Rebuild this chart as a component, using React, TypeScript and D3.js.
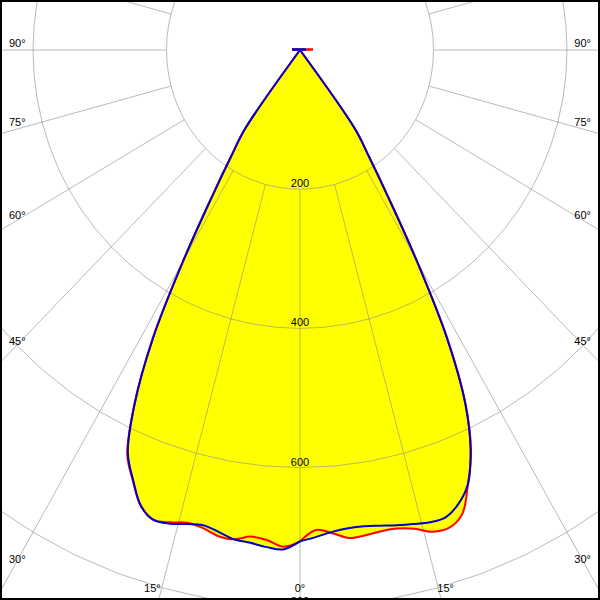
import React from "react";
import * as d3 from "d3";

// Polar angles (gamma, degrees from nadir)
const GAMMA = [0, 2, 4, 6, 8, 10, 12, 14, 16, 18, 20, 22, 24, 26, 28, 30, 32, 34, 36, 38, 40, 50, 60, 70, 80, 90];
// Luminous intensity (cd/klm) per half-plane
const RED_C0 = [706, 690, 696, 705, 704, 702, 703, 709, 720, 722, 710, 672, 630, 565, 470, 350, 250, 185, 140, 0, 0, 0, 0, 0, 0, 0];
const RED_C180 = [706, 714, 706, 703, 710, 709, 702, 700, 706, 710, 697, 668, 636, 565, 470, 350, 250, 185, 140, 0, 0, 0, 0, 0, 0, 0];
const BLUE_C90 = [706, 700, 694, 691, 691, 694, 698, 702, 706, 706, 694, 672, 628, 565, 470, 350, 250, 185, 140, 0, 0, 0, 0, 0, 0, 0];
const BLUE_C270 = [706, 718, 716, 712, 710, 703, 698, 702, 708, 710, 697, 667, 634, 565, 470, 350, 250, 185, 140, 0, 0, 0, 0, 0, 0, 0];

const RING_VALUES = [200, 400, 600, 800, 1000];
const RING_LABELS = ["200", "400", "600", "800"];
const SPOKE_STEP = 15;
const SIDE_ANGLES = [90, 75, 60, 45, 30];
const BOTTOM_ANGLES = [15];

const W = 600;
const H = 600;
const CX = 300;
const CY = 50;

const rx = d3.scaleLinear().domain([0, 200]).range([0, 133.5]);
const ry = d3.scaleLinear().domain([0, 200]).range([0, 139.2]);

const rad = (d: number) => (d * Math.PI) / 180;
const pt = (angleDeg: number, value: number): [number, number] => [
  CX + rx(value) * Math.sin(rad(angleDeg)),
  CY + ry(value) * Math.cos(rad(angleDeg)),
];

// points of one half-plane, from nadir (gamma 0) up to the first zero
function half(values: number[], sign: number): [number, number][] {
  const pts: [number, number][] = [];
  for (let i = 0; i < GAMMA.length; i++) {
    pts.push(pt(sign * GAMMA[i], values[i]));
    if (values[i] === 0) break;
  }
  return pts;
}

const smooth = d3.line<[number, number]>().curve(d3.curveCatmullRom.alpha(0.5));
const line = d3.line<[number, number]>();

function outlinePath(left: number[], right: number[]): string {
  const l = half(left, -1).reverse(); // origin -> nadir
  const r = half(right, 1); // nadir -> origin
  const a = smooth(l) as string;
  const b = (smooth(r) as string).replace(/^M/, "L");
  return a + b + "Z";
}

export default function App() {
  const red = outlinePath(RED_C180, RED_C0);
  const blue = outlinePath(BLUE_C270, BLUE_C90);

  const rings = RING_VALUES.map((v) => {
    const pts: [number, number][] = d3.range(0, 361, 5).map((a) => pt(a, v));
    return line(pts) as string;
  });
  const spokes = d3.range(0, 360, SPOKE_STEP).map((a) => line([pt(a, 200), pt(a, 1400)]) as string);

  const font = { fontFamily: "'Liberation Sans', Arial, sans-serif", fontSize: 11 };

  const spokeYAtX = (a: number, x: number) => {
    const s = Math.sin(rad(a)) * rx(1);
    const c = Math.cos(rad(a)) * ry(1);
    return CY + ((CX - x) * c) / s;
  };
  const spokeXAtY = (a: number, y: number) => {
    const s = Math.sin(rad(a)) * rx(1);
    const c = Math.cos(rad(a)) * ry(1);
    return ((y - CY) * s) / c;
  };

  return (
    <svg
      width={W}
      height={H}
      style={{ position: "fixed", left: 0, top: 0, display: "block", background: "#fff" }}
    >
      <rect x={0} y={0} width={W} height={H} fill="#fff" />
      <path d={red} fill="#ffff00" stroke="none" />
      <path d={blue} fill="#ffff00" stroke="none" />
      <g stroke="#8c8c8c" strokeOpacity={0.6} fill="none" strokeWidth={1}>
        {rings.map((d, i) => (
          <path key={"r" + i} d={d} />
        ))}
        {spokes.map((d, i) => (
          <path key={"s" + i} d={d} />
        ))}
      </g>
      <path d={red} fill="none" stroke="#ff0000" strokeWidth={2} strokeLinejoin="round" />
      <path d={blue} fill="none" stroke="#0000c8" strokeWidth={2} strokeLinejoin="round" />
      {/* luminaire */}
      <line x1={292} x2={313} y1={49.5} y2={49.5} stroke="#ff0000" strokeWidth={2.5} />
      <line x1={292} x2={306} y1={49.5} y2={49.5} stroke="#0000c8" strokeWidth={2.5} />
      <g {...font} fill="#000">
        {RING_LABELS.map((t) => (
          <text key={t} x={CX} y={CY + ry(+t) - 2} textAnchor="middle">
            {t}
          </text>
        ))}
        {SIDE_ANGLES.map((a) => (
          <text key={"l" + a} x={9} y={spokeYAtX(a, 14) - 3.5}>
            {a}°
          </text>
        ))}
        {SIDE_ANGLES.map((a) => (
          <text key={"rt" + a} x={591} y={spokeYAtX(a, 14) - 3.5} textAnchor="end">
            {a}°
          </text>
        ))}
        {BOTTOM_ANGLES.map((a) => (
          <text key={"bl" + a} x={CX - spokeXAtY(a, 592)} y={592} textAnchor="end">
            {a}°
          </text>
        ))}
        {BOTTOM_ANGLES.map((a) => (
          <text key={"br" + a} x={CX + spokeXAtY(a, 592) - 2} y={592} textAnchor="start">
            {a}°
          </text>
        ))}
        <text x={CX} y={592} textAnchor="middle">
          0°
        </text>
      </g>
      <rect x={1} y={1} width={W - 2} height={H - 2} fill="none" stroke="#000" strokeWidth={2} />
    </svg>
  );
}
